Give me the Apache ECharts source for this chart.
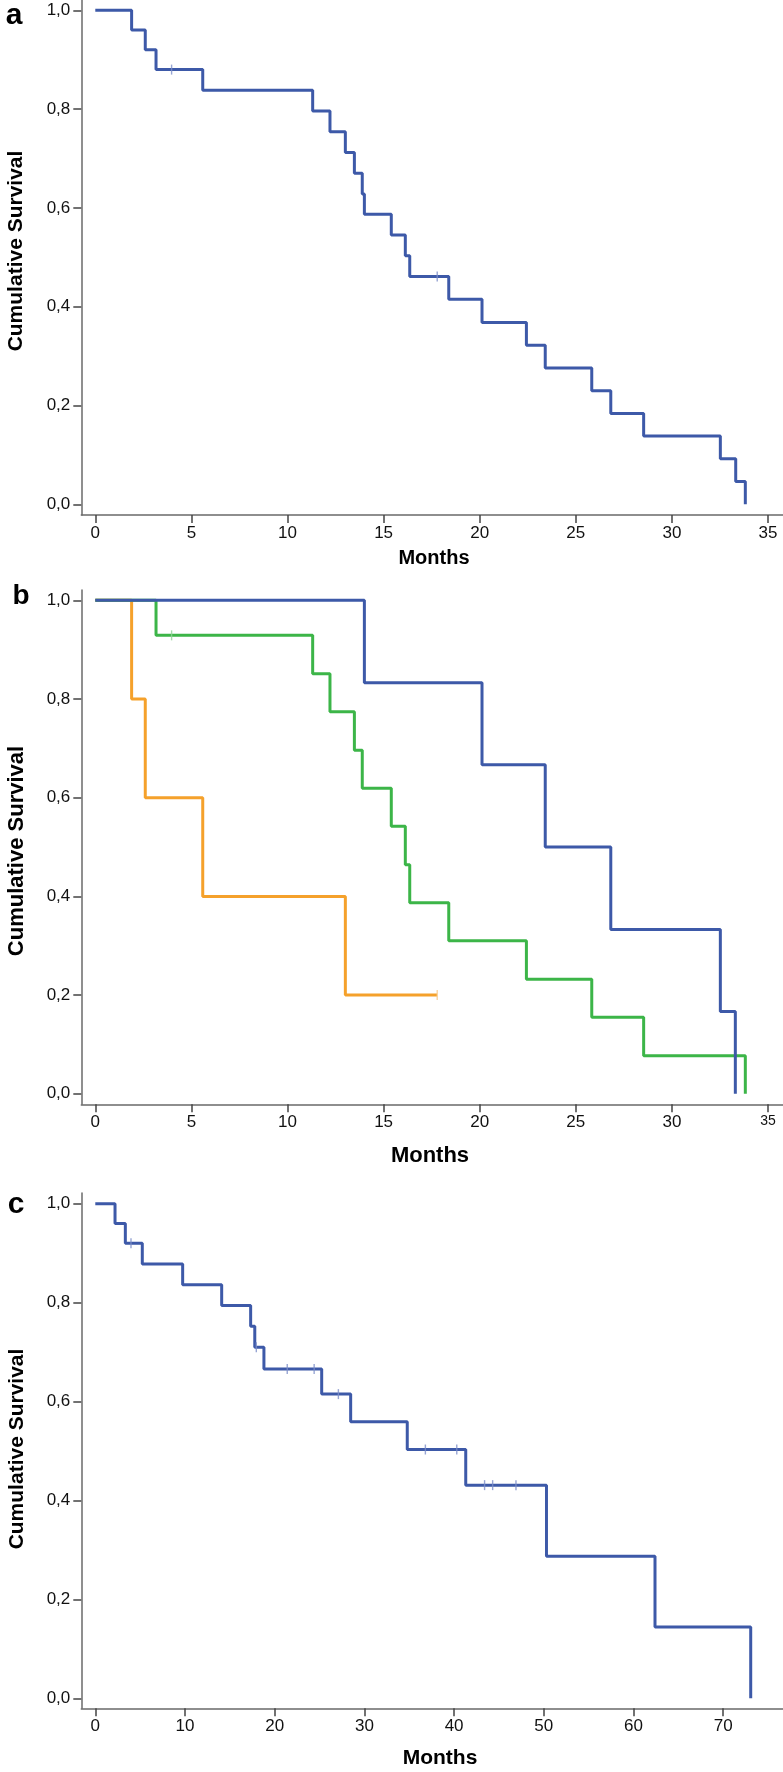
<!DOCTYPE html>
<html><head><meta charset="utf-8">
<script src="https://cdn.jsdelivr.net/npm/echarts@6/dist/echarts.min.js"></script>
<style>html,body{margin:0;padding:0;background:#fff}#chart{width:783px;height:1772px}</style>
</head><body><div id="chart"></div>
<script>
// ---------- data ----------
// Panel a: overall survival (months)
const aTimes = [0, 1.89, 2.60, 3.16, 5.59, 11.31, 12.21, 13.01, 13.48, 13.89, 14.00, 15.40, 16.13, 16.36, 18.39, 20.12, 22.43, 23.41, 25.83, 26.82, 28.53, 32.52, 33.32, 33.82];
const aSurv  = [1.0, 0.96, 0.92, 0.88, 0.838, 0.796, 0.754, 0.712, 0.670, 0.628, 0.587, 0.545, 0.503, 0.461, 0.415, 0.368, 0.322, 0.276, 0.230, 0.184, 0.138, 0.092, 0.046, 0.0];
const aCensorTimes = [3.97, 17.79];
const aCensorSurv  = [0.88, 0.461];

// Panel b: three groups
const bBlueTimes = [0, 14.00, 20.12, 23.41, 26.82, 32.52, 33.30];
const bBlueSurv  = [1.0, 0.833, 0.667, 0.500, 0.333, 0.167, 0.0];
const bGreenTimes = [0, 3.16, 11.31, 12.21, 13.48, 13.89, 15.40, 16.13, 16.36, 18.39, 22.43, 25.83, 28.53, 33.82];
const bGreenSurv  = [1.0, 0.929, 0.851, 0.774, 0.696, 0.619, 0.542, 0.464, 0.387, 0.310, 0.232, 0.155, 0.077, 0.0];
const bGreenCensorTimes = [3.97];
const bGreenCensorSurv  = [0.929];
const bOrangeTimes = [0, 1.89, 2.60, 5.59, 13.01, 17.79];
const bOrangeSurv  = [1.0, 0.8, 0.6, 0.4, 0.2, 0.2];
const bOrangeCensorTimes = [17.79];
const bOrangeCensorSurv  = [0.2];

// Panel c
const cTimes = [0, 2.20, 3.35, 5.24, 9.74, 14.09, 17.32, 17.78, 18.80, 25.24, 28.47, 34.78, 41.30, 50.30, 62.40, 73.07];
const cSurv  = [1.0, 0.96, 0.92, 0.878, 0.836, 0.794, 0.752, 0.710, 0.666, 0.615, 0.559, 0.503, 0.431, 0.287, 0.144, 0.0];
const cCensorTimes = [3.98, 17.95, 21.4, 24.4, 27.1, 36.8, 40.3, 43.4, 44.3, 46.9];
const cCensorSurv  = [0.92, 0.710, 0.666, 0.666, 0.615, 0.503, 0.503, 0.431, 0.431, 0.431];

// tick labels
const yTicks = [0, 0.2, 0.4, 0.6, 0.8, 1.0];
const abXTicks = [0, 5, 10, 15, 20, 25, 30, 35];
const cXTicks = [0, 10, 20, 30, 40, 50, 60, 70];

// ---------- styling ----------
const BLUE = '#3d59a8', GREEN = '#3cb548', ORANGE = '#f5a12b';
const CBLUE = '#7d8fc8', CGREEN = '#8fd395', CORANGE = '#f8c98a';
const AXIS = '#6a6a6a';
const TICKFONT = 'Liberation Sans, Arial, sans-serif';

function zip(t, s) { return t.map((x, i) => [x, s[i]]); }
function fmtY(v) { return v.toFixed(1).replace('.', ','); }

function xAxis(gi, min, max, ticks, small35) {
  return {
    type: 'value', gridIndex: gi, min: min, max: max,
    axisLine: { show: true, onZero: false, lineStyle: { color: AXIS, width: 1.5 } },
    axisTick: { show: true, customValues: ticks, length: 8, lineStyle: { color: '#444', width: 1.5 } },
    axisLabel: {
      customValues: ticks, margin: 10, fontSize: 17, color: '#111', fontFamily: TICKFONT,
      formatter: small35 ? (v => v === 35 ? '{s|35}' : String(v)) : (v => String(v)),
      rich: { s: { fontSize: 14, color: '#111', fontFamily: TICKFONT } }
    },
    splitLine: { show: false }
  };
}
function yAxis(gi, min, max) {
  return {
    type: 'value', gridIndex: gi, min: min, max: max,
    axisLine: { show: true, onZero: false, lineStyle: { color: AXIS, width: 1.5 } },
    axisTick: { show: true, customValues: yTicks, length: 8, lineStyle: { color: '#444', width: 1.5 } },
    axisLabel: { customValues: yTicks, margin: 11, fontSize: 17, color: '#111', fontFamily: TICKFONT, formatter: fmtY },
    splitLine: { show: false }
  };
}
function stepLine(gi, data, color) {
  return {
    type: 'line', xAxisIndex: gi, yAxisIndex: gi, data: data, step: 'end',
    showSymbol: false, symbol: 'none', lineStyle: { color: color, width: 3 }, itemStyle: { color: color },
    animation: false, z: 3
  };
}
function censor(gi, data, color) {
  return {
    type: 'scatter', xAxisIndex: gi, yAxisIndex: gi, data: data,
    symbol: 'rect', symbolSize: [1.4, 10], itemStyle: { color: color }, animation: false, z: 4
  };
}
function txt(x, y, text, size, rot) {
  return {
    type: 'text', x: x, y: y, rotation: rot ? Math.PI / 2 : 0,
    style: { text: text, fontSize: size, fontWeight: 'bold', fill: '#000',
             fontFamily: 'Liberation Sans, Arial, sans-serif', align: 'center', verticalAlign: 'middle' }
  };
}

const chart = echarts.init(document.getElementById('chart'), null, { renderer: 'canvas' });
chart.setOption({
  animation: false,
  backgroundColor: '#fff',
  grid: [
    { left: 81.3, top: 0, width: 701.7, height: 515, containLabel: false, outerBoundsMode: 'none' },
    { left: 81.3, top: 590, width: 701.7, height: 514.3, containLabel: false, outerBoundsMode: 'none' },
    { left: 81.3, top: 1193, width: 701.7, height: 515.3, containLabel: false, outerBoundsMode: 'none' }
  ],
  xAxis: [
    xAxis(0, -0.728, 35.78, abXTicks, false),
    xAxis(1, -0.728, 35.78, abXTicks, true),
    xAxis(2, -1.56, 76.67, cXTicks, false)
  ],
  yAxis: [
    yAxis(0, -0.0217, 1.0209),
    yAxis(1, -0.0213, 1.0209),
    yAxis(2, -0.0202, 1.0216)
  ],
  series: [
    stepLine(0, zip(aTimes, aSurv), BLUE),
    censor(0, zip(aCensorTimes, aCensorSurv), CBLUE),
    stepLine(1, zip(bOrangeTimes, bOrangeSurv), ORANGE),
    stepLine(1, zip(bGreenTimes, bGreenSurv), GREEN),
    stepLine(1, zip(bBlueTimes, bBlueSurv), BLUE),
    censor(1, zip(bGreenCensorTimes, bGreenCensorSurv), CGREEN),
    censor(1, zip(bOrangeCensorTimes, bOrangeCensorSurv), CORANGE),
    stepLine(2, zip(cTimes, cSurv), BLUE),
    censor(2, zip(cCensorTimes, cCensorSurv), CBLUE)
  ],
  graphic: [
    txt(14, 16, 'a', 30, false),
    txt(21, 596, 'b', 28, false),
    txt(16, 1205, 'c', 30, false),
    txt(16, 251, 'Cumulative Survival', 21, true),
    txt(17, 851, 'Cumulative Survival', 22, true),
    txt(17, 1449, 'Cumulative Survival', 21, true),
    txt(434, 558, 'Months', 20, false),
    txt(430, 1156, 'Months', 22, false),
    txt(440, 1758, 'Months', 21, false)
  ]
});
</script>
</body></html>
